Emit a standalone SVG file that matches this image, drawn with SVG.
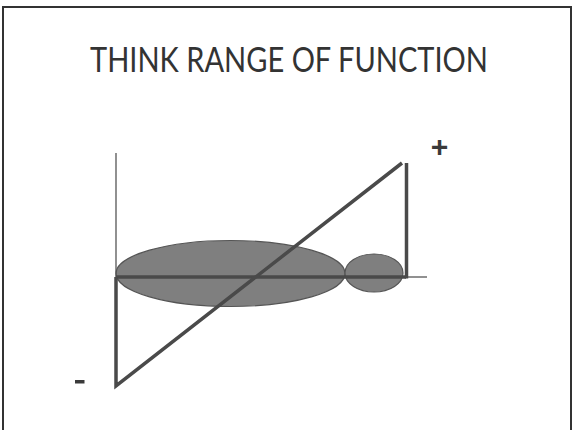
<svg xmlns="http://www.w3.org/2000/svg" width="574" height="430" viewBox="0 0 574 430">
<style>
.frame{fill:none;stroke:#333;stroke-width:2}
.title{font-family:Lato,"Open Sans","Liberation Sans",sans-serif;font-size:35px;fill:#333}
.sign{font-family:"Liberation Sans",sans-serif;font-weight:bold;fill:#3a3a3a}
.blob{fill:#7f7f7f;stroke:#555;stroke-width:1.2}
.thick{stroke:#4a4a4a;stroke-width:3.5;fill:none;stroke-linecap:butt}
.thin{stroke:#555;stroke-width:1.3;fill:none}
</style>
<rect width="574" height="430" fill="#fff"/>
<path class="frame" d="M3,430 V7 H571 V430"/>
<g id="title"><text class="title" x="289" y="72" text-anchor="middle" textLength="398" lengthAdjust="spacingAndGlyphs">THINK RANGE OF FUNCTION</text></g>
<g id="big-ellipse"><ellipse class="blob" cx="230.5" cy="273.5" rx="114.5" ry="33"/></g>
<g id="small-ellipse"><ellipse class="blob" cx="374" cy="273" rx="29" ry="19"/></g>
<g id="connectors">
<line class="thin" x1="116" y1="153" x2="116" y2="277"/>
<line class="thin" x1="406" y1="277" x2="427" y2="277"/>
<line class="thick" x1="116" y1="277" x2="406" y2="277"/>
<polyline class="thick" points="116,277 116,386 402,163"/>
<line class="thick" x1="406.5" y1="163" x2="406.5" y2="278.5"/>
</g>
<g id="plus"><text class="sign" x="439.5" y="157" font-size="30" text-anchor="middle">+</text></g>
<g id="minus"><rect x="75" y="380" width="9.5" height="3.5" fill="#3a3a3a"/></g>
</svg>
